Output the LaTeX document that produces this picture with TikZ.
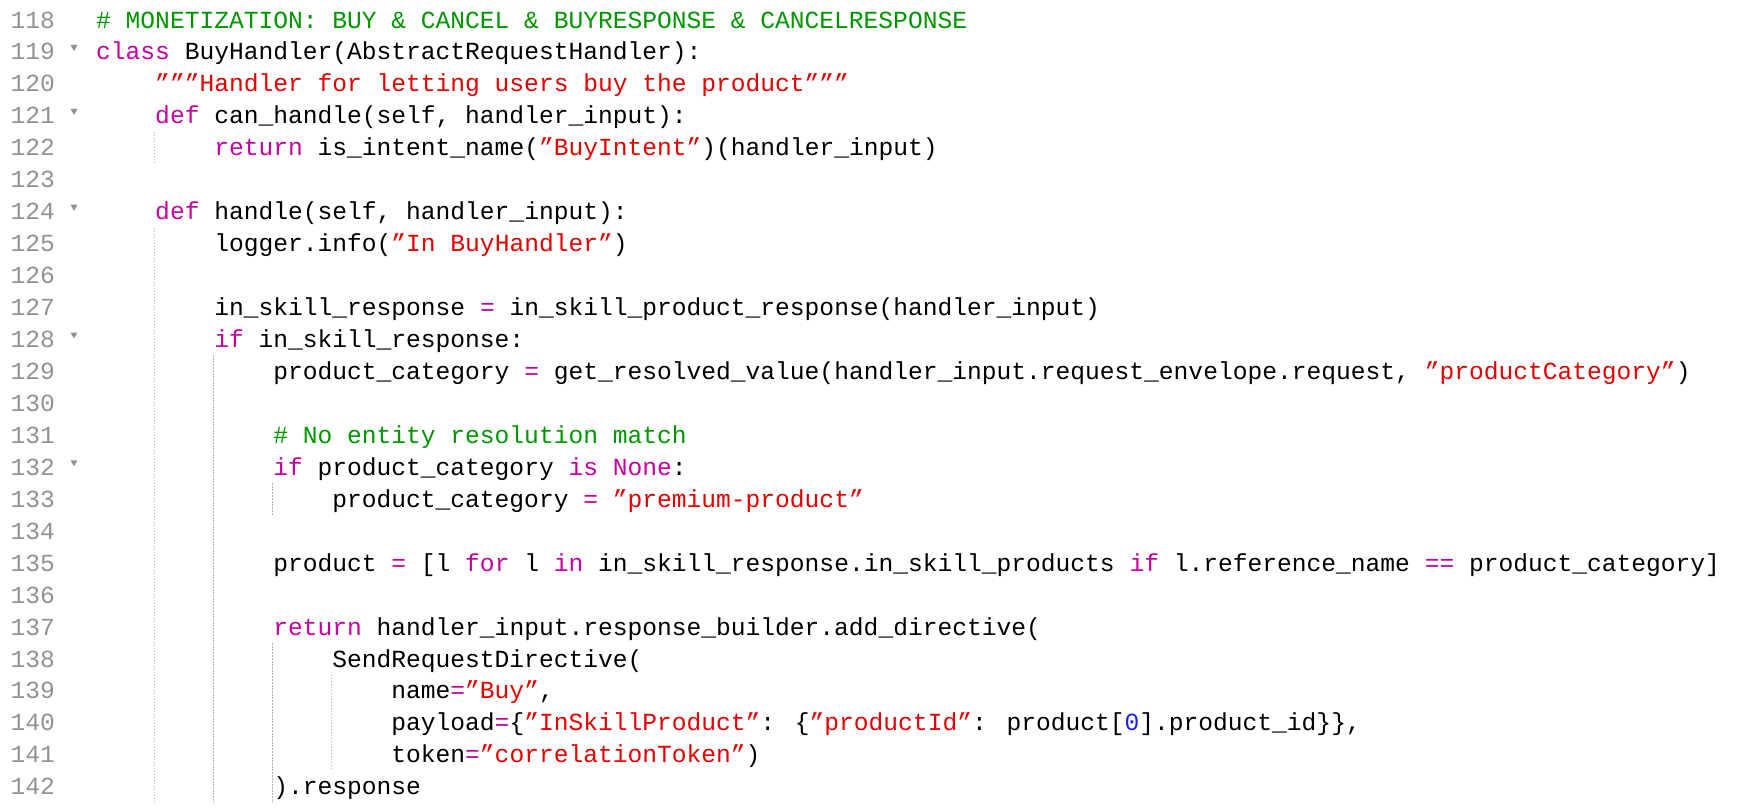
\documentclass[tikz,border=0pt]{standalone}
\usepackage{fontspec}
\setmainfont{Liberation Mono}
\usetikzlibrary{positioning}
\definecolor{codegreen}{RGB}{0,150,0}
\definecolor{codekw}{RGB}{200,0,160}
\definecolor{codestr}{RGB}{230,0,0}
\definecolor{codenum}{RGB}{30,30,230}
\definecolor{codegray}{RGB}{145,145,150}
\newcommand{\kw}[1]{\textcolor{codekw}{#1}}
\newcommand{\st}[1]{\textcolor{codestr}{#1}}
\newcommand{\cm}[1]{\textcolor{codegreen}{#1}}
\newcommand{\nm}[1]{\textcolor{codenum}{#1}}
\newcommand{\codeline}[3]{\node[code] (l#1) at (96+#2*14.76,28+#1*31.95) {#3};}
\tikzset{
  code/.style={anchor=base west, inner sep=0pt, font=\fontsize{24.6}{30}\selectfont},
  lnum/.style={anchor=base east, inner sep=0pt, text=codegray, font=\fontsize{24.6}{30}\selectfont},
  guide/.style={codegray!70, line width=0.8pt, dash pattern=on 1.5pt off 1.5pt},
  fold/.style={fill=codegray}
}
\begin{document}
\begin{tikzpicture}[x=1pt,y=-1pt]
  \useasboundingbox (0,0) rectangle (1747,807);
  % line numbers
  \foreach \n [count=\i from 0] in {118,...,142}
    \node[lnum] (n\n) at (55,28+\i*31.95) {\n};
  % fold markers
  \foreach \i in {1,3,6,10,14}
    \fill[fold] (70.5,13+\i*31.95) -- (77.5,13+\i*31.95) -- (74,19+\i*31.95) -- cycle;
  % indent guides (column, first line, last line)
  \foreach \c/\a/\b in {4/4/4, 4/7/24, 8/11/24, 12/15/15, 12/20/24, 16/21/23}
    \draw[guide] (96+\c*14.76-1,4+\a*31.95) -- (96+\c*14.76-1,4+\b*31.95+31.95);
  % code lines
  \codeline{0}{0}{\cm{\# MONETIZATION: BUY \& CANCEL \& BUYRESPONSE \& CANCELRESPONSE}}
  \codeline{1}{0}{\kw{class} BuyHandler(AbstractRequestHandler):}
  \codeline{2}{4}{\st{"""Handler for letting users buy the product"""}}
  \codeline{3}{4}{\kw{def} can\_handle(self, handler\_input):}
  \codeline{4}{8}{\kw{return} is\_intent\_name(\st{"BuyIntent"})(handler\_input)}
  \codeline{6}{4}{\kw{def} handle(self, handler\_input):}
  \codeline{7}{8}{logger.info(\st{"In BuyHandler"})}
  \codeline{9}{8}{in\_skill\_response \kw{=} in\_skill\_product\_response(handler\_input)}
  \codeline{10}{8}{\kw{if} in\_skill\_response:}
  \codeline{11}{12}{product\_category \kw{=} get\_resolved\_value(handler\_input.request\_envelope.request, \st{"productCategory"})}
  \codeline{13}{12}{\cm{\# No entity resolution match}}
  \codeline{14}{12}{\kw{if} product\_category \kw{is} \kw{None}:}
  \codeline{15}{16}{product\_category \kw{=} \st{"premium-product"}}
  \codeline{17}{12}{product \kw{=} [l \kw{for} l \kw{in} in\_skill\_response.in\_skill\_products \kw{if} l.reference\_name \kw{==} product\_category]}
  \codeline{19}{12}{\kw{return} handler\_input.response\_builder.add\_directive(}
  \codeline{20}{16}{SendRequestDirective(}
  \codeline{21}{20}{name\kw{=}\st{"Buy"},}
  \codeline{22}{20}{payload\kw{=}\{\st{"InSkillProduct"}: \{\st{"productId"}: product[\nm{0}].product\_id\}\},}
  \codeline{23}{20}{token\kw{=}\st{"correlationToken"})}
  \codeline{24}{12}{).response}
\end{tikzpicture}
\end{document}
